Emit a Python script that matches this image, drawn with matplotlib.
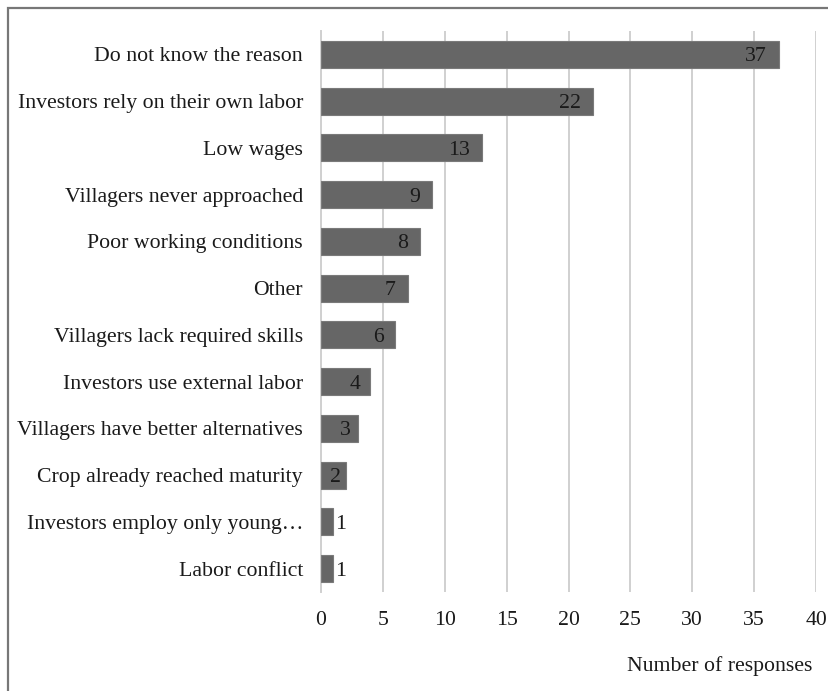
import matplotlib
matplotlib.use("Agg")
import matplotlib.pyplot as plt
from matplotlib.patches import Rectangle

categories = [
    "Do not know the reason",
    "Investors rely on their own labor",
    "Low wages",
    "Villagers never approached",
    "Poor working conditions",
    "Other",
    "Villagers lack required skills",
    "Investors use external labor",
    "Villagers have better alternatives",
    "Crop already reached maturity",
    "Investors employ only young\u2026",
    "Labor conflict",
]
responses = [37, 22, 13, 9, 8, 7, 6, 4, 3, 2, 1, 1]
x_ticks = [0, 5, 10, 15, 20, 25, 30, 35, 40]

plt.rcParams["font.family"] = ["Liberation Serif", "DejaVu Serif"]
FS = 15.7

W, H = 829, 691
fig = plt.figure(figsize=(W / 100, H / 100), dpi=100)
ax = fig.add_axes([321 / W, 1 - 592 / H, (816 - 321) / W, (592 - 31) / H])

ypos = list(range(len(categories)))
ax.barh(ypos, responses, height=0.58, color="#666666",
        edgecolor="#7a7a7a", linewidth=0.8, zorder=3)

# value labels: inside the bar end, or just outside for very short bars
for y, v in zip(ypos, responses):
    if v >= 2:
        ax.text(v - min(0.95, 0.2 * v), y, str(v), ha="right",
                va="center_baseline", fontsize=FS, color="#1a1a1a", zorder=4)
    else:
        ax.text(v + 0.1, y, str(v), ha="left", va="center_baseline",
                fontsize=FS, color="#1a1a1a", zorder=4)

ax.set_xlim(0, 40)
ax.set_ylim(len(categories) - 0.5, -0.5)
ax.set_xticks(x_ticks)
ax.set_xticklabels([str(t) for t in x_ticks], fontsize=FS)
ax.set_yticks(ypos)
ax.set_yticklabels(categories, fontsize=FS)
for lbl in ax.get_yticklabels():
    lbl.set_verticalalignment("center_baseline")
ax.tick_params(axis="both", length=0, colors="#1a1a1a")
ax.tick_params(axis="x", pad=14)
ax.tick_params(axis="y", pad=13)
ax.xaxis.grid(True, color="#d0d0d0", linewidth=1.4, zorder=0)
ax.set_axisbelow(True)
for s in ["top", "right", "bottom"]:
    ax.spines[s].set_visible(False)
ax.spines["left"].set_color("#d0d0d0")
ax.spines["left"].set_linewidth(1.4)

fig.text(812 / W, 1 - 664 / H, "Number of responses", ha="right",
         va="center_baseline", fontsize=FS, color="#1a1a1a")

fig.patches.append(Rectangle((8 / W, -0.1), 1.2, 1 - 8 / H + 0.1,
                             transform=fig.transFigure, fill=False,
                             edgecolor="#777777", linewidth=1.6))

fig.savefig("out.png", dpi=100)
